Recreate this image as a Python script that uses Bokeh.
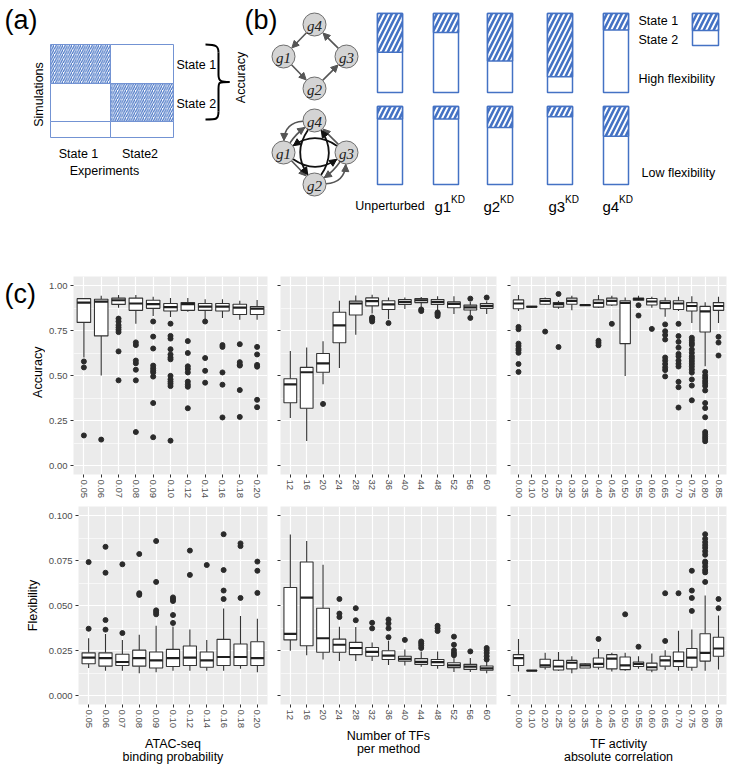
import math
from bokeh.plotting import figure
from bokeh.models import Range1d, FactorRange, FixedTicker, NumeralTickFormatter, Arrow, NormalHead
from bokeh.layouts import column, row
from bokeh.embed import file_html
from bokeh.resources import INLINE
from bokeh.core.properties import value

FONT = "Liberation Sans"
BLUE = "#4472C4"
GRIDBLUE = "#7393D3"

# ---------------- data: panel (a) ----------------
a_sim_states = ["State 1", "State 2"]
a_exp_states = ["State 1", "State2"]
a_match = [[1, 0], [0, 1], [0, 0]]   # hatched cells (simulation row x experiment column)

# ---------------- data: panel (b) ----------------
kd_names = ["Unperturbed", "g1", "g2", "g3", "g4"]
state1_high_flex = [0.49, 0.24, 0.60, 0.80, 0.21]
state1_low_flex = [0.16, 0.16, 0.27, 0.13, 0.38]

# ---------------- data: panel (c) ----------------
atac_cats = ["0.05", "0.06", "0.07", "0.08", "0.09", "0.10", "0.12", "0.14", "0.16", "0.18", "0.20"]
ntf_cats = ["12", "16", "20", "24", "28", "32", "36", "40", "44", "48", "52", "56", "60"]
corr_cats = ["0.00", "0.10", "0.20", "0.25", "0.30", "0.35", "0.40", "0.45", "0.50", "0.55", "0.60",
             "0.65", "0.70", "0.75", "0.80", "0.85"]

acc_atac_q1 = [0.795, 0.72, 0.895, 0.862, 0.873, 0.858, 0.862, 0.862, 0.858, 0.839, 0.839]
acc_atac_med = [0.905, 0.91, 0.918, 0.90, 0.896, 0.88, 0.896, 0.883, 0.883, 0.877, 0.871]
acc_atac_q3 = [0.927, 0.924, 0.93, 0.93, 0.918, 0.90, 0.905, 0.90, 0.90, 0.896, 0.883]
acc_atac_lo = [0.60, 0.50, 0.877, 0.788, 0.83, 0.825, 0.854, 0.81, 0.82, 0.81, 0.81]
acc_atac_hi = [0.93, 0.943, 0.947, 0.947, 0.9375, 0.93, 0.93, 0.924, 0.924, 0.915, 0.92]
acc_atac_out = [
    [0.578, 0.545, 0.167],
    [0.144],
    [0.816, 0.80, 0.78, 0.767, 0.754, 0.741, 0.634, 0.473],
    [0.684, 0.669, 0.583, 0.568, 0.532, 0.473, 0.186],
    [0.80, 0.716, 0.65, 0.555, 0.54, 0.527, 0.517, 0.494, 0.347, 0.157],
    [0.788, 0.72, 0.705, 0.646, 0.617, 0.60, 0.59, 0.498, 0.479, 0.466, 0.454, 0.441, 0.138],
    [0.691, 0.625, 0.551, 0.536, 0.517, 0.466, 0.45, 0.4375, 0.318],
    [0.80, 0.597, 0.526, 0.46],
    [0.669, 0.659, 0.517, 0.449, 0.267],
    [0.674, 0.574, 0.559, 0.555, 0.419, 0.27],
    [0.659, 0.617, 0.559, 0.549, 0.365, 0.324],
]

acc_ntf_q1 = [0.349, 0.318, 0.518, 0.682, 0.836, 0.887, 0.867, 0.895, 0.905, 0.895, 0.876, 0.864, 0.873]
acc_ntf_med = [0.451, 0.518, 0.567, 0.778, 0.90, 0.913, 0.895, 0.909, 0.918, 0.909, 0.898, 0.878, 0.887]
acc_ntf_q3 = [0.482, 0.545, 0.622, 0.851, 0.913, 0.931, 0.915, 0.922, 0.927, 0.922, 0.909, 0.891, 0.90]
acc_ntf_lo = [0.264, 0.136, 0.451, 0.542, 0.727, 0.845, 0.813, 0.869, 0.88, 0.864, 0.842, 0.836, 0.842]
acc_ntf_hi = [0.636, 0.655, 0.69, 0.915, 0.945, 0.949, 0.933, 0.933, 0.936, 0.94, 0.94, 0.909, 0.913]
acc_ntf_out = [[], [], [0.342], [], [], [0.822, 0.815, 0.81, 0.80], [0.791], [], [0.867, 0.858],
               [0.85, 0.845, 0.838, 0.83], [], [0.927, 0.82], [0.933]]

acc_corr_q1 = [0.871, 0.880, 0.896, 0.880, 0.896, 0.889, 0.880, 0.892, 0.677, 0.918, 0.892, 0.871, 0.867, 0.858, 0.742, 0.862]
acc_corr_med = [0.900, 0.882, 0.915, 0.896, 0.915, 0.891, 0.903, 0.915, 0.903, 0.924, 0.911, 0.903, 0.900, 0.886, 0.856, 0.886]
acc_corr_q3 = [0.920, 0.884, 0.928, 0.905, 0.930, 0.893, 0.920, 0.930, 0.915, 0.930, 0.928, 0.915, 0.915, 0.905, 0.884, 0.905]
acc_corr_lo = [0.858, 0.878, 0.892, 0.871, 0.862, 0.887, 0.877, 0.886, 0.497, 0.915, 0.877, 0.827, 0.858, 0.791, 0.552, 0.791]
acc_corr_hi = [0.947, 0.886, 0.934, 0.915, 0.943, 0.895, 0.947, 0.943, 0.934, 0.943, 0.937, 0.934, 0.937, 0.940, 0.907, 0.937]
acc_corr_out = [
    [0.77, 0.757, 0.677, 0.664, 0.649, 0.64, 0.626, 0.564, 0.52],
    [], [0.744], [0.953, 0.658], [], [], [0.693, 0.681, 0.668], [0.787], [], [0.89, 0.833], [0.759],
    [0.784, 0.746, 0.725, 0.70, 0.60, 0.583, 0.564, 0.545, 0.53, 0.495],
    [0.787, 0.719, 0.687, 0.655, 0.62, 0.607, 0.583, 0.565, 0.55, 0.465, 0.435, 0.322],
    [0.71, 0.696, 0.681, 0.67, 0.645, 0.626, 0.607, 0.594, 0.58, 0.565, 0.55, 0.533, 0.516, 0.478, 0.444, 0.362],
    [0.52, 0.50, 0.486, 0.47, 0.457, 0.442, 0.417, 0.347, 0.319, 0.268, 0.186, 0.173, 0.16, 0.148, 0.135],
    [0.715, 0.683, 0.611],
]

flex_atac_q1 = [0.0176, 0.0163, 0.0167, 0.0163, 0.0153, 0.0161, 0.0167, 0.0157, 0.0167, 0.0167, 0.0167]
flex_atac_med = [0.0210, 0.0208, 0.0186, 0.0208, 0.0195, 0.0208, 0.0210, 0.0195, 0.0214, 0.0214, 0.0208]
flex_atac_q3 = [0.0237, 0.0237, 0.0229, 0.0252, 0.0242, 0.0256, 0.0275, 0.0242, 0.0312, 0.0286, 0.0299]
flex_atac_lo = [0.0153, 0.0138, 0.0138, 0.0123, 0.0129, 0.0138, 0.0138, 0.0138, 0.0138, 0.0148, 0.0129]
flex_atac_hi = [0.0318, 0.0341, 0.0309, 0.0337, 0.0388, 0.0384, 0.0366, 0.0309, 0.0483, 0.0441, 0.0426]
flex_atac_out = [
    [0.0371, 0.0741], [0.0366, 0.0419, 0.0682, 0.0826], [0.0347, 0.0729], [0.0568, 0.0559, 0.0786],
    [0.0451, 0.0463, 0.0473, 0.0631, 0.0858], [0.0403, 0.0447, 0.0525, 0.0536, 0.0545], [0.067, 0.0805],
    [0.0725], [0.0536, 0.0583, 0.0697, 0.0896], [0.0542, 0.0830, 0.0845], [0.057, 0.0693, 0.0744],
]

flex_ntf_q1 = [0.0309, 0.0276, 0.0240, 0.0240, 0.0227, 0.0218, 0.0200, 0.0191, 0.0173, 0.0167, 0.0155, 0.0145, 0.0140]
flex_ntf_med = [0.0342, 0.0544, 0.0318, 0.0282, 0.0264, 0.0242, 0.0222, 0.0204, 0.0187, 0.0185, 0.0167, 0.0160, 0.0151]
flex_ntf_q3 = [0.0600, 0.0742, 0.0485, 0.0313, 0.0295, 0.0267, 0.0249, 0.0218, 0.0205, 0.0200, 0.0182, 0.0173, 0.0164]
flex_ntf_lo = [0.0249, 0.0224, 0.0200, 0.0191, 0.0191, 0.0191, 0.0169, 0.0167, 0.0160, 0.0149, 0.0131, 0.0131, 0.0124]
flex_ntf_hi = [0.0895, 0.0858, 0.0727, 0.0382, 0.0380, 0.0295, 0.0304, 0.0255, 0.0245, 0.0245, 0.0209, 0.0209, 0.0191]
flex_ntf_out = [[], [], [], [0.0436, 0.0455, 0.0536], [0.0418, 0.0485], [0.0373, 0.0404],
                [0.0324, 0.0373, 0.0400, 0.0422], [0.0309], [0.0264, 0.0278, 0.0290, 0.0300],
                [0.0358, 0.0373, 0.0387], [0.0224, 0.0236, 0.0251, 0.0282, 0.0327], [0.0245],
                [0.0200, 0.0218, 0.0236, 0.0251, 0.0264]]

flex_corr_q1 = [0.0167, 0.0138, 0.0157, 0.0142, 0.0148, 0.0153, 0.0157, 0.0148, 0.0144, 0.0161, 0.0142, 0.0163, 0.0161, 0.0157, 0.0191, 0.0218]
flex_corr_med = [0.0208, 0.0138, 0.0167, 0.0161, 0.0182, 0.0167, 0.0176, 0.0205, 0.0167, 0.0176, 0.0157, 0.0195, 0.0191, 0.0210, 0.0237, 0.0261]
flex_corr_q3 = [0.0227, 0.0139, 0.0201, 0.0195, 0.0195, 0.0176, 0.0208, 0.0227, 0.0214, 0.0186, 0.0180, 0.0218, 0.0242, 0.0261, 0.0343, 0.0324]
flex_corr_lo = [0.0134, 0.0137, 0.0144, 0.0138, 0.0123, 0.0153, 0.0144, 0.0134, 0.0138, 0.0148, 0.0129, 0.0142, 0.0138, 0.0138, 0.0138, 0.0144]
flex_corr_hi = [0.0314, 0.0140, 0.0237, 0.0242, 0.0218, 0.0180, 0.0258, 0.0237, 0.0237, 0.0218, 0.0233, 0.0252, 0.0360, 0.0366, 0.0555, 0.0445]
flex_corr_out = [[], [], [], [], [], [], [0.0314], [], [0.0451], [0.0271], [], [0.0303, 0.0568], [0.0568],
                 [0.047, 0.0542, 0.0583, 0.0693],
                 [0.0631, 0.0684, 0.0697, 0.0716, 0.0735, 0.0744, 0.0782, 0.0801, 0.082, 0.0835, 0.0852, 0.0871, 0.0896],
                 [0.0485, 0.0536]]

acc_ticks = [0.0, 0.25, 0.5, 0.75, 1.0]
flex_ticks = [0.0, 0.025, 0.05, 0.075, 0.1]


def txt(p, x, y, s, size="12.5px", align="left", baseline="middle", angle=0.0,
        style="normal", font=FONT, color="black"):
    p.text(x=[x], y=[y], text=[s], text_font=value(font), text_font_size=size,
           text_align=align, text_baseline=baseline, angle=angle,
           text_font_style=style, text_color=color)


def blank_fig(w, h, x0, x1, y0, y1):
    f = figure(width=w, height=h, x_range=Range1d(x0, x1), y_range=Range1d(y1, y0),
               output_backend="svg", toolbar_location=None,
               min_border_left=0, min_border_right=0, min_border_top=0, min_border_bottom=0)
    f.axis.visible = False
    f.grid.visible = False
    f.outline_line_color = None
    return f


# ================= top figure: panels (a) and (b) =================
top = blank_fig(731, 258, 0, 731, 0, 258)

# ---- panel (a)
txt(top, 4, 4, "(a)", size="27px", baseline="top")
ax_edges = [50, 110, 173]
ay_edges = [44, 83, 121, 137]
for r in range(3):
    for c in range(2):
        kw = dict(left=[ax_edges[c]], right=[ax_edges[c + 1]], top=[ay_edges[r]], bottom=[ay_edges[r + 1]],
                  fill_color="white", line_color=GRIDBLUE, line_width=1)
        if a_match[r][c]:
            kw.update(hatch_pattern="/", hatch_color=BLUE, hatch_scale=4.5, hatch_weight=1.2)
        top.quad(**kw)
for i, s in enumerate(a_sim_states):
    txt(top, 176, (ay_edges[i] + ay_edges[i + 1]) / 2 + 1, s)
for i, s in enumerate(a_exp_states):
    txt(top, (ax_edges[i] + ax_edges[i + 1]) / 2 - 2, 153, s, align="center")
txt(top, 104, 170, "Experiments", align="center")
txt(top, 38, 94, "Simulations", align="center", angle=math.pi / 2)

# curly brace
bx = 218
by0, by1 = 44, 119
bm = (by0 + by1) / 2
top.bezier(x0=[205, bx, 229, bx], y0=[by0, bm - 7, bm, by1 - 8],
           x1=[bx, 229, bx, 205], y1=[by0 + 8, bm, bm + 7, by1],
           cx0=[216, bx, bx, bx], cy0=[by0, bm, bm, by1],
           cx1=[bx, 222, bx, 216], cy1=[by0 + 2, bm, bm, by1],
           line_color="black", line_width=2)
top.segment(x0=[bx, bx], y0=[by0 + 8, bm + 7], x1=[bx, bx], y1=[bm - 7, by1 - 8],
            line_color="black", line_width=2)
txt(top, 240, 77, "Accuracy", align="center", angle=math.pi / 2)

# ---- panel (b)
txt(top, 244, 4, "(b)", size="27px", baseline="top")

NODE_R = 11.5
GRAY = "#555555"


def node_set(cx, cy, dy):
    return {"g1": (cx - 31, cy), "g2": (cx, cy + dy), "g3": (cx + 32, cy), "g4": (cx, cy - dy)}


def draw_nodes(nodes):
    names = list(nodes)
    top.circle(x=[nodes[n][0] for n in names], y=[nodes[n][1] for n in names], radius=NODE_R,
               fill_color="#D4D4D4", line_color="#6E6E6E", line_width=1)
    top.text(x=[nodes[n][0] for n in names], y=[nodes[n][1] + 1 for n in names], text=names,
             text_font=value("Liberation Serif"), text_font_style="italic", text_font_size="15px",
             text_align="center", text_baseline="middle", text_color="#222222")


def head(x0, y0, x1, y1, color, size=7):
    top.add_layout(Arrow(end=NormalHead(size=size, fill_color=color, line_color=color, line_width=1),
                         x_start=x0, y_start=y0, x_end=x1, y_end=y1, line_color=color, line_width=1))


def straight(a, b, color=GRAY, lw=1.6):
    dx, dy = b[0] - a[0], b[1] - a[1]
    L = math.hypot(dx, dy)
    ux, uy = dx / L, dy / L
    xs, ys = a[0] + ux * NODE_R, a[1] + uy * NODE_R
    xe, ye = b[0] - ux * (NODE_R + 0.5), b[1] - uy * (NODE_R + 0.5)
    top.segment(x0=[xs], y0=[ys], x1=[xe - ux * 4], y1=[ye - uy * 4], line_color=color, line_width=lw)
    head(xe - ux * 5, ye - uy * 5, xe, ye, color)


def curved(a, b, bulge, color=GRAY, lw=1.6):
    dx, dy = b[0] - a[0], b[1] - a[1]
    L = math.hypot(dx, dy)
    ux, uy = dx / L, dy / L
    nx, ny = -uy, ux
    cx = (a[0] + b[0]) / 2 + nx * bulge * 2
    cy = (a[1] + b[1]) / 2 + ny * bulge * 2
    sa = math.atan2(cy - a[1], cx - a[0])
    sb = math.atan2(cy - b[1], cx - b[0])
    xs, ys = a[0] + NODE_R * math.cos(sa), a[1] + NODE_R * math.sin(sa)
    xe, ye = b[0] + (NODE_R + 0.5) * math.cos(sb), b[1] + (NODE_R + 0.5) * math.sin(sb)
    top.quadratic(x0=[xs], y0=[ys], x1=[xe], y1=[ye], cx=[cx], cy=[cy], line_color=color, line_width=lw)
    tx, ty = xe - cx, ye - cy
    tl = math.hypot(tx, ty)
    head(xe - tx / tl * 5, ye - ty / tl * 5, xe, ye, color)


net1 = node_set(314, 56, 32)
for a, b in [("g4", "g1"), ("g1", "g2"), ("g2", "g3"), ("g3", "g4")]:
    straight(net1[a], net1[b])
draw_nodes(net1)

net2 = node_set(314, 152, 32)
curved(net2["g4"], net2["g1"], 10)
curved(net2["g1"], net2["g4"], -2)
straight(net2["g3"], net2["g4"])
straight(net2["g1"], net2["g2"])
curved(net2["g2"], net2["g3"], 10)
curved(net2["g3"], net2["g2"], -2)
for a, b in [("g3", "g1"), ("g1", "g3"), ("g4", "g2"), ("g2", "g4")]:
    curved(net2[a], net2[b], 11, color="#111111", lw=1.8)
draw_nodes(net2)

# bars of panel (b)
bar_left = [377, 433, 487, 547, 603]
bar_w = 25
rows_y = [(13, 92, state1_high_flex), (106, 184, state1_low_flex)]
for y0, y1, fr in rows_y:
    rights = [l + bar_w for l in bar_left]
    splits = [y0 + f * (y1 - y0) for f in fr]
    top.quad(left=bar_left, right=rights, top=[y0] * 5, bottom=[y1] * 5,
             fill_color="white", line_color=BLUE, line_width=1.5)
    top.quad(left=bar_left, right=rights, top=[y0] * 5, bottom=splits,
             fill_color="white", hatch_pattern="/", hatch_color=BLUE, hatch_scale=10, hatch_weight=2.6,
             line_color=BLUE, line_width=1.5)

txt(top, bar_left[0] + bar_w / 2, 205, kd_names[0], size="12.5px", align="center", baseline="alphabetic")
kd_x = [434, 483, 548, 602]
for xl, name in zip(kd_x, kd_names[1:]):
    txt(top, xl, 206, name, size="15px", baseline="alphabetic")
    txt(top, xl + 16.5, 198.5, "KD", size="10px", baseline="alphabetic")

# legend
txt(top, 638, 20, "State 1")
txt(top, 638, 39, "State 2")
top.quad(left=[692], right=[718], top=[13], bottom=[45], fill_color="white", line_color=BLUE, line_width=1.5)
top.quad(left=[692], right=[718], top=[13], bottom=[30], fill_color="white", hatch_pattern="/",
         hatch_color=BLUE, hatch_scale=10, hatch_weight=2.6, line_color=BLUE, line_width=1.5)
txt(top, 638, 78, "High flexibility")
txt(top, 641, 172, "Low flexibility")

# ---- label strip for panel (c), first row: "(c)" and the y title "Accuracy"
lab = blank_fig(45, 242, 0, 45, 258, 500)
txt(lab, 4, 261, "(c)", size="27px", baseline="top")
txt(lab, 37, 375, "Accuracy", align="center", angle=math.pi / 2)


# ================= panel (c): box plots =================
def box_panel(cats, q1, med, q3, lo, hi, outl, ylim, ticks, fmt, w, h, bl, br, bt, bb,
              ylabel=None, xlabel=None, show_y=True):
    p = figure(width=w, height=h,
               x_range=FactorRange(factors=cats, range_padding=0.1, range_padding_units="absolute"),
               y_range=Range1d(*ylim), output_backend="svg", toolbar_location=None,
               min_border_left=bl, min_border_right=br, min_border_top=bt, min_border_bottom=bb)
    p.background_fill_color = "#EBEBEB"
    p.border_fill_color = "white"
    p.outline_line_color = None
    minors = [(ticks[i] + ticks[i + 1]) / 2 for i in range(len(ticks) - 1)]
    p.yaxis.ticker = FixedTicker(ticks=ticks, minor_ticks=minors)
    p.yaxis.formatter = NumeralTickFormatter(format=fmt)
    p.xgrid.grid_line_color = "white"
    p.xgrid.grid_line_width = 1.2
    p.ygrid.grid_line_color = "white"
    p.ygrid.grid_line_width = 1.2
    p.ygrid.minor_grid_line_color = "white"
    p.ygrid.minor_grid_line_width = 0.6
    for ax in (p.xaxis, p.yaxis):
        ax.axis_line_color = None
        ax.major_tick_line_color = "#333333"
        ax.major_tick_out = 3
        ax.major_tick_in = 0
        ax.minor_tick_line_color = None
        ax.major_label_text_font = FONT
        ax.major_label_text_font_size = "9.5px"
        ax.major_label_text_color = "#4D4D4D"
        ax.major_label_standoff = 2
        ax.axis_label_text_font = FONT
        ax.axis_label_text_font_style = "normal"
        ax.axis_label_text_font_size = "12.5px"
        ax.axis_label_text_color = "#000000"
        ax.axis_label_text_line_height = 0.95
        ax.axis_label_standoff = 6
    p.xaxis.major_label_orientation = "vertical"
    if not show_y:
        p.yaxis.major_label_overrides = {t: "" for t in ticks}
        p.yaxis.major_label_standoff = 0
    if ylabel:
        p.yaxis.axis_label = ylabel
    if xlabel:
        p.xaxis.axis_label = xlabel

    bw = 0.78
    p.segment(x0=cats, y0=q3, x1=cats, y1=hi, line_color="#333333", line_width=1.1)
    p.segment(x0=cats, y0=q1, x1=cats, y1=lo, line_color="#333333", line_width=1.1)
    p.vbar(x=cats, width=bw, bottom=q1, top=q3, fill_color="white", line_color="#333333", line_width=1.1)
    p.vbar(x=cats, width=bw, bottom=med, top=med, fill_color=None, line_color="#1F1F1F", line_width=2.2)
    ox = [c for c, vals in zip(cats, outl) for _ in vals]
    oy = [v for vals in outl for v in vals]
    p.scatter(x=ox, y=oy, size=5, fill_color="#2B2B2B", line_color="#2B2B2B")
    return p


ACC = (-0.05, 1.05)
FLX = (-0.005, 0.105)
c11 = box_panel(atac_cats, acc_atac_q1, acc_atac_med, acc_atac_q3, acc_atac_lo, acc_atac_hi, acc_atac_out,
                ACC, acc_ticks, "0.00", 227, 242, 28, 5, 18, 26)
c12 = box_panel(ntf_cats, acc_ntf_q1, acc_ntf_med, acc_ntf_q3, acc_ntf_lo, acc_ntf_hi, acc_ntf_out,
                ACC, acc_ticks, "0.00", 228, 242, 8, 4, 18, 26, show_y=False)
c13 = box_panel(corr_cats, acc_corr_q1, acc_corr_med, acc_corr_q3, acc_corr_lo, acc_corr_hi, acc_corr_out,
                ACC, acc_ticks, "0.00", 231, 242, 10, 5, 18, 26, show_y=False)
c21 = box_panel(atac_cats, flex_atac_q1, flex_atac_med, flex_atac_q3, flex_atac_lo, flex_atac_hi, flex_atac_out,
                FLX, flex_ticks, "0.000", 272, 268, 78, 5, 6, 64, ylabel="Flexibility",
                xlabel="ATAC-seq\nbinding probability")
c22 = box_panel(ntf_cats, flex_ntf_q1, flex_ntf_med, flex_ntf_q3, flex_ntf_lo, flex_ntf_hi, flex_ntf_out,
                FLX, flex_ticks, "0.000", 228, 268, 8, 4, 6, 64, show_y=False,
                xlabel="Number of TFs\nper method")
c23 = box_panel(corr_cats, flex_corr_q1, flex_corr_med, flex_corr_q3, flex_corr_lo, flex_corr_hi, flex_corr_out,
                FLX, flex_ticks, "0.000", 231, 268, 10, 5, 6, 64, show_y=False,
                xlabel="TF activity\nabsolute correlation")

layout = column(top, row(lab, c11, c12, c13), row(c21, c22, c23))
open("out.html", "w").write(file_html(layout, INLINE))
